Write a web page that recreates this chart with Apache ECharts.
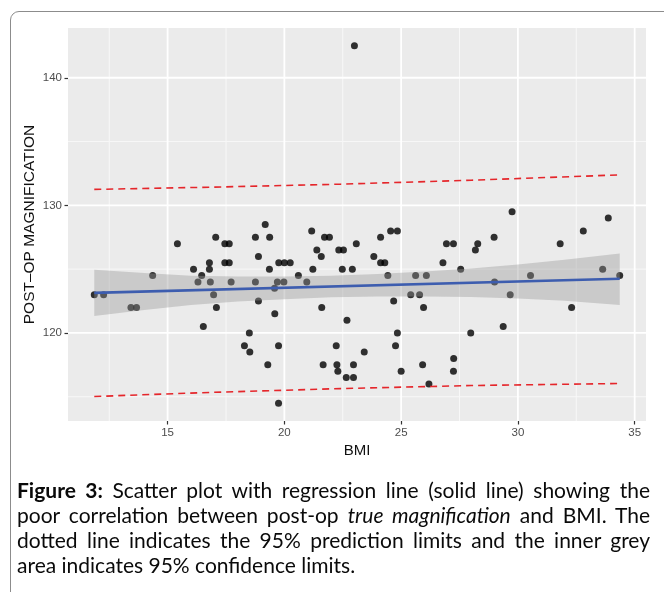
<!DOCTYPE html>
<html>
<head>
<meta charset="utf-8">
<script src="https://cdn.jsdelivr.net/npm/echarts@6/dist/echarts.min.js"></script>
<style>
  html, body { margin: 0; padding: 0; background: #fff; }
  body { width: 664px; height: 592px; overflow: hidden; position: relative; }
  #frame {
    position: absolute; left: 10px; top: 11px; width: 720px; height: 720px;
    border: 1.5px solid #8c8c8c; border-radius: 9px; box-sizing: border-box;
  }
  #chart { position: absolute; left: 0; top: 0; width: 664px; height: 592px; }
  #caption {
    position: absolute; left: 17px; top: 477px; width: 633px;
    font-family: Lato, "Open Sans", sans-serif; font-size: 21px; line-height: 25px; color: #0a0a0a;
  }
  #caption div { white-space: nowrap; }
  #caption .j { text-align: justify; text-align-last: justify; }
</style>
</head>
<body>
<div id="frame"></div>
<div id="chart"></div>
<div id="caption">
  <div class="j"><b>Figure 3:</b> Scatter plot with regression line (solid line) showing the</div>
  <div class="j">poor correlation between post-op <i>true magnification</i> and BMI. The</div>
  <div class="j">dotted line indicates the 95% prediction limits and the inner grey</div>
  <div>area indicates 95% confidence limits.</div>
</div>
<script>
// scatter data: BMI vs post-op magnification
const bmi = [11.86, 12.26, 13.43, 13.67, 14.36, 15.42, 16.11, 16.3, 16.46, 16.53,
  16.79, 16.79, 16.83, 16.97, 17.06, 17.09, 17.45, 17.64, 17.45, 17.64,
  17.72, 18.5, 18.29, 18.52, 18.76, 18.76, 18.89, 18.89, 19.18, 19.37,
  19.36, 19.59, 19.29, 19.75, 19.75, 19.58, 19.7, 19.98, 19.76, 20.0,
  20.25, 20.6, 20.96, 21.17, 21.22, 21.39, 21.58, 21.6, 21.66, 21.72,
  21.93, 22.22, 22.25, 22.29, 22.33, 22.53, 22.48, 22.91, 22.68, 22.65,
  22.96, 22.96, 23.08, 23.0, 23.42, 23.83, 24.12, 24.12, 24.3, 24.43,
  24.55, 24.84, 24.68, 24.84, 24.76, 25.0, 25.41, 25.79, 25.62, 26.08,
  25.96, 25.92, 26.19, 26.79, 26.94, 27.24, 27.55, 27.25, 27.24, 27.98,
  28.18, 28.28, 28.98, 29.0, 29.75, 29.67, 30.54, 29.37, 31.81, 32.8,
  32.3, 33.63, 33.87, 34.36];
const mag = [123, 123, 122, 122, 124.5, 127, 125, 124, 124.5, 120.5,
  125.5, 125, 124, 123, 127.5, 122, 127, 127, 125.5, 125.5,
  124, 120, 119, 118.5, 127.5, 124, 126, 122.5, 128.5, 127.5,
  125, 121.5, 117.5, 114.5, 119, 123.5, 124, 124, 125.5, 125.5,
  125.5, 124.5, 124, 128, 125, 126.5, 126, 122, 117.5, 127.5,
  127.5, 119, 117.5, 117, 126.5, 126.5, 125, 125, 121, 116.5,
  116.5, 117.5, 127, 142.5, 118.5, 126, 127.5, 125.5, 125.5, 124.5,
  128, 128, 122.5, 120, 119, 117, 123, 123, 124.5, 124.5,
  122, 117.5, 116, 125.5, 127, 127, 125, 118, 117, 120,
  126.5, 127, 127.5, 124, 129.5, 123, 124.5, 120.5, 127, 128,
  122, 125, 129, 124.5];

// regression line (end points)
const fitX = [11.86, 34.36];
const fitY = [123.14, 124.25];

// 95% confidence band
const bandX  = [11.86, 14, 16, 18, 20, 22, 24, 26, 28, 30, 32, 34.36];
const bandLo = [121.32, 121.8, 122.19, 122.46, 122.65, 122.79, 122.86, 122.86, 122.82, 122.7, 122.53, 122.2];
const bandHi = [124.95, 124.7, 124.49, 124.42, 124.43, 124.49, 124.62, 124.82, 125.06, 125.36, 125.73, 126.23];

// 95% prediction limits
const predX  = [11.86, 17, 22.4, 28, 34.36];
const predHi = [131.25, 131.43, 131.66, 131.97, 132.39];
const predLo = [115.02, 115.35, 115.64, 115.88, 116.04];

// ticks and grid lines
const xTicks = [15, 20, 25, 30, 35];
const xMinor = [12.5, 17.5, 22.5, 27.5, 32.5];
const yTicks = [120, 130, 140];
const yMinor = [115, 125, 135];

const xMin = 10.735, xMax = 35.485, yMin = 113.1, yMax = 143.9;

function zip(a, b) { return a.map((v, i) => [v, b[i]]); }

function gridSeries(dir, values, width, color) {
  return {
    type: 'custom', silent: true, z: 1,
    data: values.map(v => dir === 'x' ? [v, yMin] : [xMin, v]),
    renderItem: function (params, api) {
      const cs = params.coordSys;
      const p = api.coord([api.value(0), api.value(1)]);
      const shape = dir === 'x'
        ? { x1: p[0], y1: cs.y, x2: p[0], y2: cs.y + cs.height }
        : { x1: cs.x, y1: p[1], x2: cs.x + cs.width, y2: p[1] };
      return { type: 'line', shape: shape, style: { stroke: color, lineWidth: width } };
    }
  };
}

const chart = echarts.init(document.getElementById('chart'));
chart.setOption({
  animation: false,
  grid: { left: 68, top: 28, width: 578, height: 393, show: true, backgroundColor: '#EBEBEB', borderWidth: 0 },
  xAxis: {
    type: 'value', min: xMin, max: xMax,
    axisLine: { show: false },
    splitLine: { show: false },
    axisTick: { show: true, customValues: xTicks, length: 3.5, lineStyle: { color: '#333', width: 1.2 } },
    axisLabel: { customValues: xTicks, margin: 6, color: '#4D4D4D', fontSize: 11.5, fontFamily: 'Liberation Sans' }
  },
  yAxis: {
    type: 'value', min: yMin, max: yMax,
    axisLine: { show: false },
    splitLine: { show: false },
    axisTick: { show: true, customValues: yTicks, length: 3.5, lineStyle: { color: '#333', width: 1.2 } },
    axisLabel: { customValues: yTicks, margin: 6, color: '#4D4D4D', fontSize: 11.5, fontFamily: 'Liberation Sans' }
  },
  graphic: [
    { type: 'text', x: 357, y: 451, style: { text: 'BMI', textAlign: 'center', textVerticalAlign: 'middle',
      font: '15px "Liberation Sans"', fill: '#111' } },
    { type: 'text', x: 30, y: 224.5, rotation: Math.PI / 2, style: { text: 'POST\u2013OP MAGNIFICATION',
      textAlign: 'center', textVerticalAlign: 'middle', font: '15.5px "Liberation Sans"', fill: '#111' } }
  ],
  series: [
    gridSeries('x', xMinor, 1, '#F8F8F8'),
    gridSeries('y', yMinor, 1, '#F8F8F8'),
    gridSeries('x', xTicks, 1.8, '#FFFFFF'),
    gridSeries('y', yTicks, 1.8, '#FFFFFF'),
    {
      type: 'scatter', z: 2, data: zip(bmi, mag), symbolSize: 7,
      itemStyle: { color: '#000' }
    },
    {
      type: 'custom', z: 3, silent: true,
      data: [[bandX[0], bandLo[0]]],
      renderItem: function (params, api) {
        const top = bandX.map((x, i) => api.coord([x, bandHi[i]]));
        const bot = bandX.map((x, i) => api.coord([x, bandLo[i]])).reverse();
        return { type: 'polygon', shape: { points: top.concat(bot) }, style: { fill: 'rgba(153,153,153,0.4)' } };
      }
    },
    {
      type: 'line', z: 4, data: zip(fitX, fitY), symbol: 'none',
      lineStyle: { color: '#3D5DAF', width: 2.6 }
    },
    {
      type: 'line', z: 4, data: zip(predX, predHi), symbol: 'none',
      lineStyle: { color: '#E5262B', width: 1.6, type: [7, 5] }
    },
    {
      type: 'line', z: 4, data: zip(predX, predLo), symbol: 'none',
      lineStyle: { color: '#E5262B', width: 1.6, type: [7, 5] }
    }
  ]
});
</script>
</body>
</html>
